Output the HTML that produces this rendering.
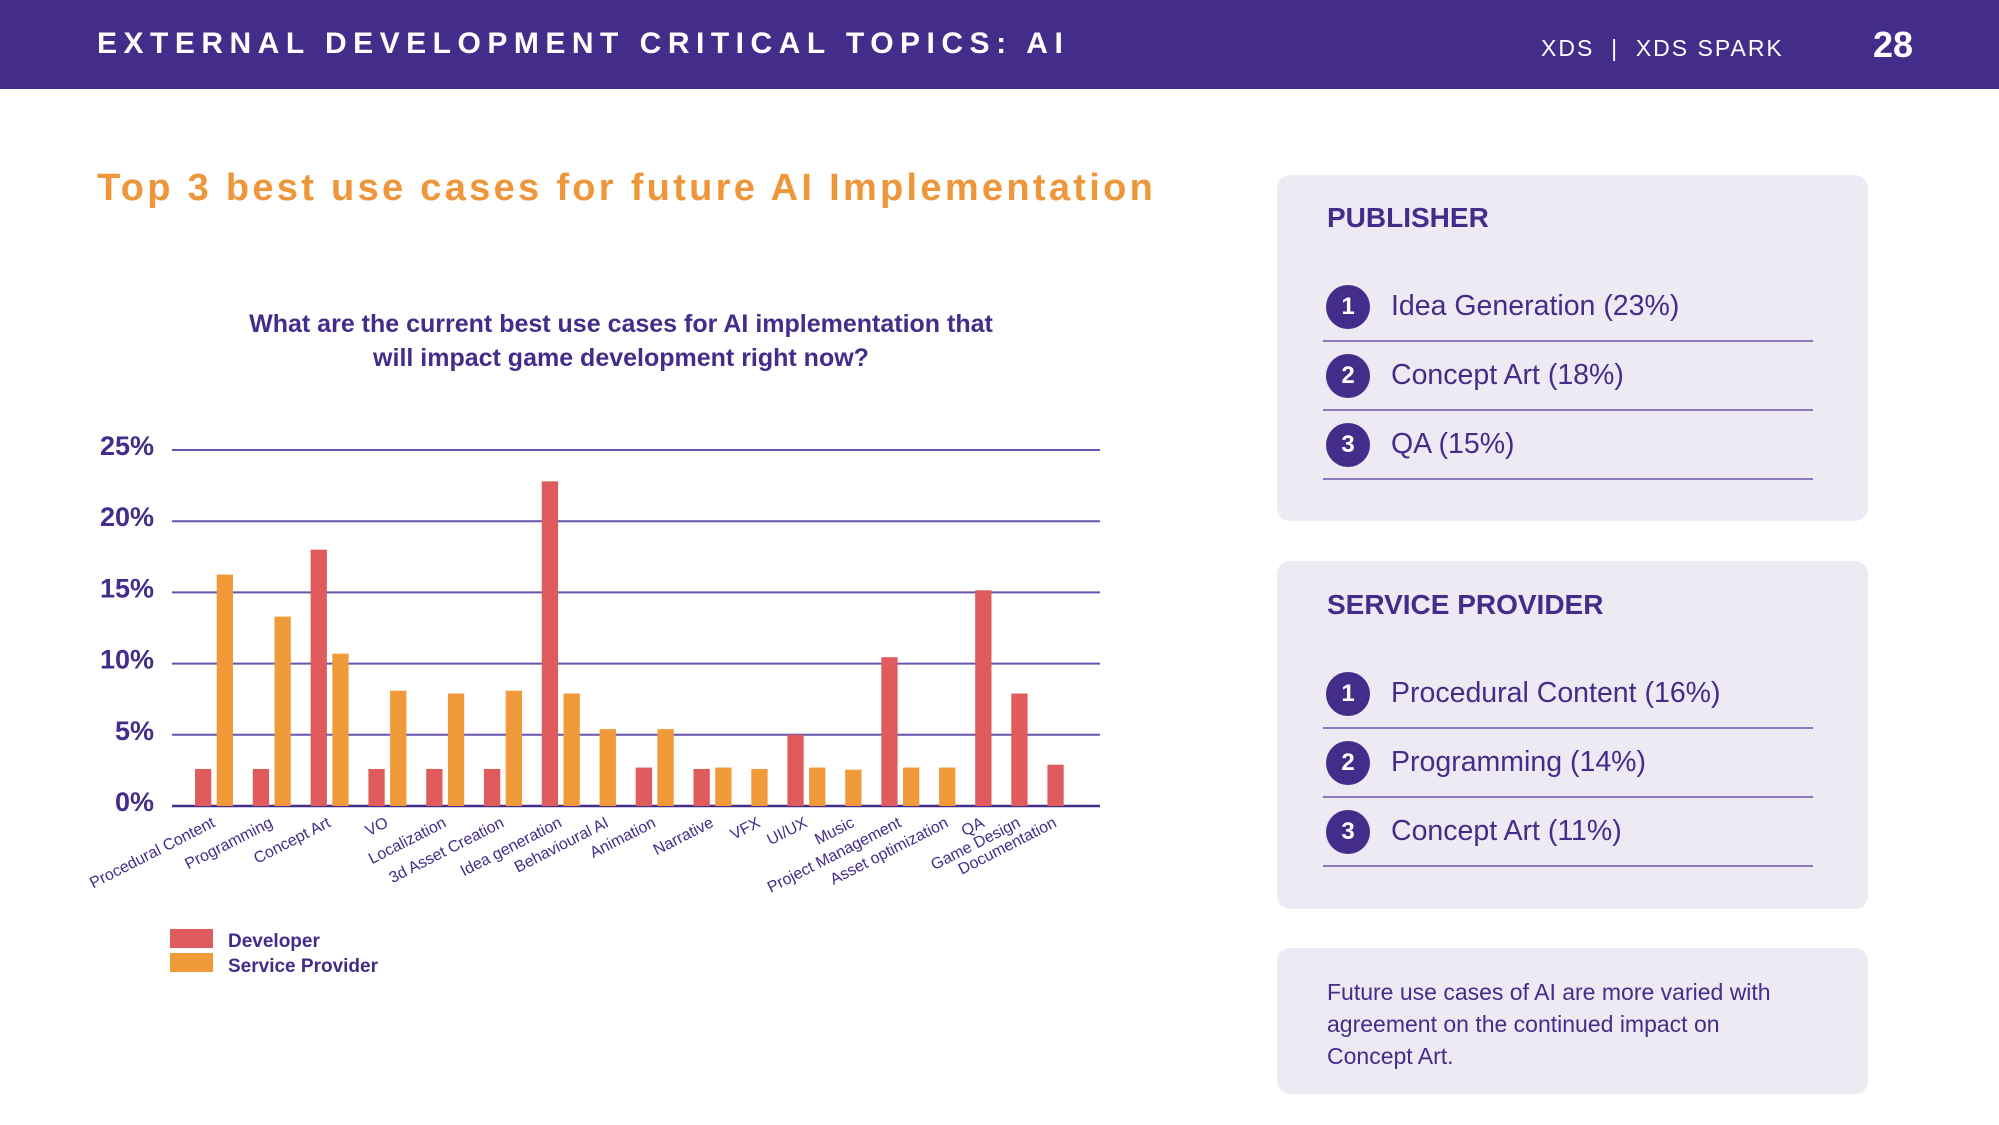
<!DOCTYPE html>
<html><head><meta charset="utf-8"><style>
body{margin:0;width:1999px;height:1125px;overflow:hidden;background:#fff;font-family:"Liberation Sans",sans-serif;position:relative}
.abs{position:absolute}
.hdr{left:0;top:0;width:1999px;height:89px;background:#432c8a}
.panel{position:absolute;left:1277px;width:591px;background:#edeaf4;border-radius:13px}
.ph{position:absolute;left:50px;font-weight:bold;font-size:28px;color:#432c8a}
.item{position:absolute;left:46px;width:490px;height:69px;border-bottom:2px solid #8a78c0}
.num{position:absolute;left:3px;top:14px;width:44px;height:44px;border-radius:50%;background:#432c8a;color:#fff;font-weight:bold;font-size:24px;text-align:center;line-height:44px}
.itx{position:absolute;left:68px;top:19px;font-size:28.5px;color:#432c8a;white-space:nowrap}
</style></head><body>
<div class="abs hdr"></div>
<div class="abs" style="left:97px;top:27px;color:#fff;font-weight:bold;font-size:30px;letter-spacing:6.5px;white-space:nowrap">EXTERNAL DEVELOPMENT CRITICAL TOPICS: AI</div>
<div class="abs" style="left:1541px;top:35px;color:#fff;font-size:23px;letter-spacing:2px;white-space:nowrap">XDS &nbsp;| &nbsp;XDS SPARK</div>
<div class="abs" style="left:1873px;top:24px;color:#fff;font-weight:bold;font-size:36px">28</div>
<div class="abs" style="left:97px;top:167px;color:#f0963a;font-weight:bold;font-size:38px;letter-spacing:3.3px;white-space:nowrap">Top 3 best use cases for future AI Implementation</div>
<div class="abs" style="left:171px;top:307px;width:900px;text-align:center;color:#432c8a;font-weight:bold;font-size:25px;line-height:34px">What are the current best use cases for AI implementation that<br>will impact game development right now?</div>

<svg class="abs" style="left:0;top:0" width="1999" height="1125" id="chart"></svg>

<div class="panel" style="top:175px;height:346px">
<div class="ph" style="top:27px">PUBLISHER</div>
<div class="item" style="top:96px"><div class="num">1</div><div class="itx">Idea Generation (23%)</div></div>
<div class="item" style="top:165px"><div class="num">2</div><div class="itx">Concept Art (18%)</div></div>
<div class="item" style="top:234px"><div class="num">3</div><div class="itx">QA (15%)</div></div>
</div>
<div class="panel" style="top:561px;height:348px">
<div class="ph" style="top:28px">SERVICE PROVIDER</div>
<div class="item" style="top:97px"><div class="num">1</div><div class="itx">Procedural Content (16%)</div></div>
<div class="item" style="top:166px"><div class="num">2</div><div class="itx">Programming (14%)</div></div>
<div class="item" style="top:235px"><div class="num">3</div><div class="itx">Concept Art (11%)</div></div>
</div>
<div class="panel" style="top:948px;height:146px">
<div class="abs" style="left:50px;top:28px;font-size:23px;line-height:32px;color:#432c8a;width:480px">Future use cases of AI are more varied with agreement on the continued impact on Concept Art.</div>
</div>

<script>
const categories=["Procedural Content","Programming","Concept Art","VO","Localization","3d Asset Creation","Idea generation","Behavioural AI","Animation","Narrative","VFX","UI/UX","Music","Project Management","Asset optimization","QA","Game Design","Documentation"];
const developer=[2.6,2.6,18.0,2.6,2.6,2.6,22.8,0,2.7,2.6,0,5.0,0,10.45,0,15.15,7.9,2.9];
const serviceProvider=[16.25,13.3,10.7,8.1,7.9,8.1,7.9,5.4,5.4,2.7,2.6,2.7,2.55,2.7,2.7,0,0,0];
const yTicks=[0,5,10,15,20,25];
const yTickLabels=["0%","5%","10%","15%","20%","25%"];
const seriesNames=["Developer","Service Provider"];

const NS="http://www.w3.org/2000/svg";
const svg=document.getElementById('chart');
const X0=172,X1=1100,Y0=806,YTOP=450;
function y(v){return Y0-v*(Y0-YTOP)/25;}
const colors=["#e05c5c","#f09a3a"];
function mk(t,a){const e=document.createElementNS(NS,t);for(const k in a)e.setAttribute(k,a[k]);svg.appendChild(e);return e;}
yTicks.forEach((t,i)=>{
  const l=mk('line',{x1:X0,x2:X1,y1:y(t),y2:y(t),stroke:i==0?'#432c8a':'#6a52b0','stroke-width':i==0?2.5:2});
  
  
  const tx=mk('text',{x:154,y:y(t)+5,'text-anchor':'end','font-size':27,'font-weight':'bold',fill:'#432c8a','font-family':'Liberation Sans, sans-serif'});
  tx.textContent=yTickLabels[i];
  
  
});
const BW=16.3,IG=5.4,GG=19.8;
let cx=195;
categories.forEach((c,i)=>{
  const start=cx;
  [developer[i],serviceProvider[i]].forEach((v,s)=>{
    if(v>0){
      const r=mk('rect',{x:cx,y:y(v),width:BW,height:Y0-y(v),fill:colors[s]});
      
      
      cx+=BW+IG;
    }
  });
  const end=cx-IG;
  const mid=(start+end)/2;
  const t=mk('text',{x:mid+2,y:826,'text-anchor':'end','font-size':16,fill:'#432c8a','font-family':'Liberation Sans, sans-serif',transform:`rotate(-27 ${mid+2} 826)`});
  t.textContent=c;
  
  
  cx=end+GG;
});
seriesNames.forEach((n,s)=>{
  const r=mk('rect',{x:170,y:929+s*24,width:43,height:19,fill:colors[s]});
  
  
  const t=mk('text',{x:228,y:947+s*25,'font-size':19,'font-weight':'bold',fill:'#432c8a','font-family':'Liberation Sans, sans-serif'});
  t.textContent=n;
  
  
});
</script>
</body></html>
